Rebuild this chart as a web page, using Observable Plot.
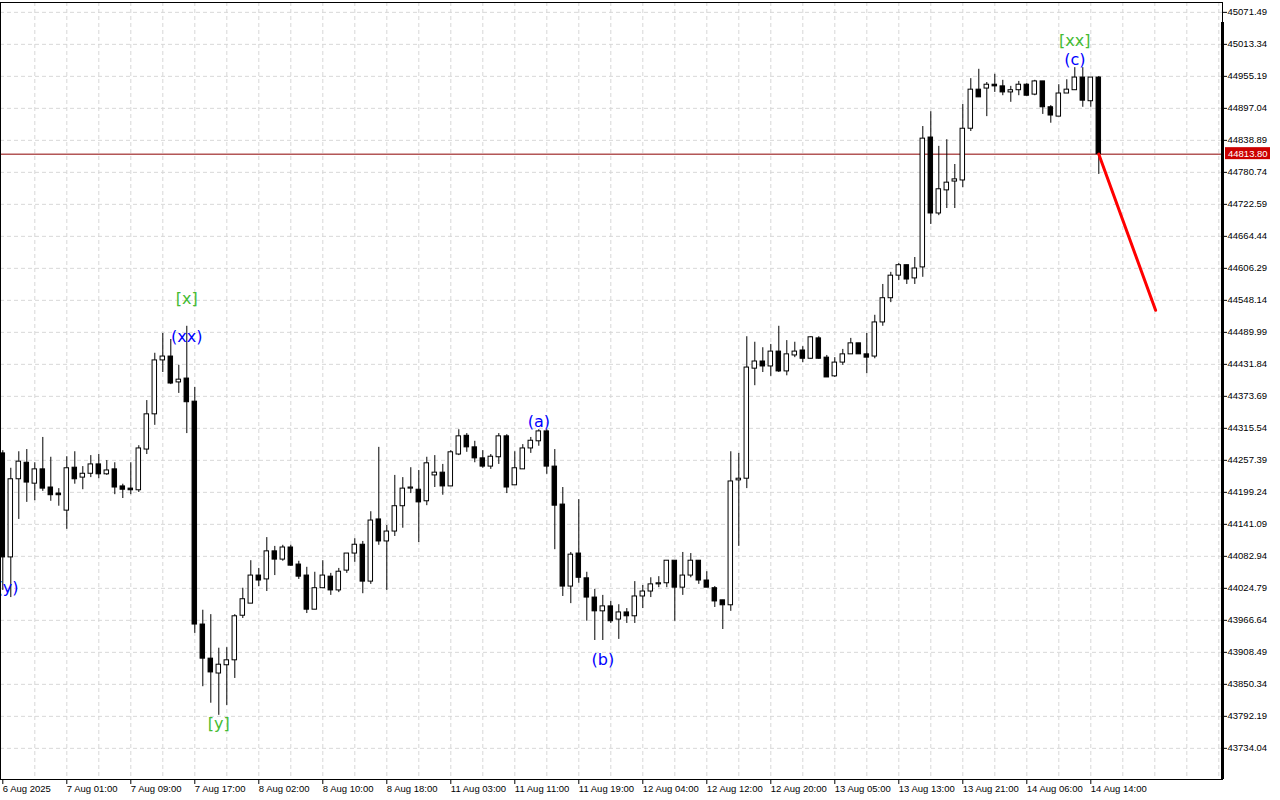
<!DOCTYPE html>
<html><head><meta charset="utf-8">
<script src="https://cdn.jsdelivr.net/npm/d3@7"></script>
<script src="https://cdn.jsdelivr.net/npm/@observablehq/plot@0.6"></script>
<style>body{margin:0;background:#fff;} svg{display:block}</style>
</head><body><div id="chart"></div>
<script>
const open=[44270,44081,44223,44253,44215,44241,44208,44197,44166,44244,
44226,44233,44250,44232,44241,44210,44206,44203,44277,44341,
44439,44446,44399,44406,44364,43959,43897,43870,43885,43894,
43975,43997,44048,44041,44092,44077,44099,44068,44048,43986,
44025,44046,44021,44057,44088,44104,44037,44150,44110,44128,
44174,44206,44204,44183,44230,44235,44210,44268,44302,44281,
44261,44246,44263,44301,44212,44241,44279,44292,44310,44246,
44177,44028,44088,44043,44008,43983,43992,43968,43981,43974,
44010,44019,44032,44034,44075,44026,44048,44075,44039,44025,
44003,43994,44221,44224,44424,44437,44428,44455,44419,44448,
44457,44442,44479,44444,44410,44435,44450,44470,44450,44446,
44508,44552,44593,44612,44588,44608,44844,44706,44748,44764,
44766,44860,44931,44933,44940,44937,44926,44930,44940,44922,
44946,44899,44882,44924,44930,44953,44910,44953];
const high=[44275,44243,44273,44277,44253,44299,44263,44206,44264,44273,
44246,44266,44268,44257,44253,44214,44253,44284,44366,44452,
44488,44477,44430,44501,44390,43985,43977,43916,43917,43977,
44025,44075,44061,44117,44101,44103,44103,44074,44063,44054,
44075,44052,44061,44088,44115,44110,44164,44281,44139,44230,
44226,44244,44239,44263,44266,44250,44275,44313,44306,44292,
44275,44268,44306,44304,44273,44286,44299,44313,44313,44277,
44208,44090,44186,44054,44023,44012,44001,43995,43988,44037,
44030,44044,44046,44075,44075,44090,44088,44075,44055,44028,
44003,44273,44270,44482,44472,44462,44468,44501,44475,44472,
44464,44482,44482,44448,44444,44459,44479,44470,44488,44521,
44577,44599,44615,44612,44626,44864,44891,44828,44840,44795,
44904,44951,44968,44944,44959,44948,44937,44946,44942,44948,
44946,44902,44940,44949,44971,44971,44953,44955];
const low=[44021,44008,44150,44181,44184,44201,44183,44174,44132,44214,
44204,44226,44224,44230,44195,44188,44195,44199,44268,44321,
44417,44395,44379,44306,43943,43846,43816,43794,43812,43861,
43970,43997,44028,44019,44048,44074,44065,44041,43979,43986,
44025,44012,44017,44052,44072,44015,44032,44103,44021,44119,
44134,44197,44108,44175,44208,44194,44210,44266,44272,44253,
44243,44241,44250,44197,44212,44241,44270,44283,44232,44095,
44010,43997,44034,43965,43930,43930,43961,43932,43961,43961,
43988,44008,44026,44026,43965,44012,44044,44032,44026,43990,
43950,43983,44101,44206,44393,44417,44410,44417,44411,44444,
44435,44441,44441,44408,44408,44430,44450,44450,44415,44442,
44501,44544,44584,44577,44577,44590,44686,44702,44715,44715,
44753,44855,44917,44882,44926,44920,44908,44920,44919,44920,
44886,44870,44882,44924,44930,44899,44899,44777];
const close=[44081,44223,44255,44217,44241,44206,44194,44194,44243,44223,
44233,44250,44232,44239,44208,44204,44203,44279,44341,44439,
44446,44397,44404,44363,43959,43897,43872,43886,43894,43974,
44005,44048,44039,44092,44077,44099,44066,44046,43986,44025,
44048,44021,44055,44088,44104,44037,44148,44110,44128,44174,
44206,44208,44181,44252,44235,44210,44272,44301,44281,44261,
44246,44264,44301,44208,44243,44279,44293,44310,44246,44175,
44028,44086,44044,44008,43983,43992,43965,43981,43974,44010,
44019,44032,44034,44075,44026,44048,44075,44039,44026,44001,
43994,44219,44224,44426,44437,44428,44455,44419,44450,44455,
44442,44481,44442,44408,44435,44450,44470,44450,44444,44508,
44552,44593,44612,44586,44606,44842,44706,44750,44762,44768,
44860,44931,44917,44940,44937,44926,44930,44940,44920,44946,
44899,44884,44924,44931,44953,44911,44953,44813.8];

const priceTicks=[45071.49,45013.34,44955.19,44897.04,44838.89,44780.74,44722.59,44664.44,44606.29,44548.14,44489.99,44431.84,44373.69,44315.54,44257.39,44199.24,44141.09,44082.94,44024.79,43966.64,43908.49,43850.34,43792.19,43734.04];
const timeIdx=[0,8,16,24,32,40,48,56,64,72,80,88,96,104,112,120,128,136];
const timeLabels=["6 Aug 2025","7 Aug 01:00","7 Aug 09:00","7 Aug 17:00","8 Aug 02:00","8 Aug 10:00","8 Aug 18:00","11 Aug 03:00","11 Aug 11:00","11 Aug 19:00","12 Aug 04:00","12 Aug 12:00","12 Aug 20:00","13 Aug 05:00","13 Aug 13:00","13 Aug 21:00","14 Aug 06:00","14 Aug 14:00"];
const lastPrice=44813.80;
const forecastIdx=[137,144.1];
const forecastPrice=[44813.8,44530];
const waveText=["(y)","[x]","(xx)","[y]","(a)","(b)","(c)","[xx]"];
const waveIdx=[0.6,23,23,27,67,75,134,134];
const wavePrice=[44025,44551,44482,43779,44328,43894,44986,45020];
const waveColor=["#0000ff","#44bb33","#0000ff","#44bb33","#0000ff","#0000ff","#0000ff","#44bb33"];

const candles=open.map((o,i)=>({i,open:o,high:high[i],low:low[i],close:close[i]}));
const forecast=forecastIdx.map((x,k)=>({i:x,p:forecastPrice[k]}));
const waves=waveText.map((t,k)=>({t,i:waveIdx[k],p:wavePrice[k],c:waveColor[k]}));
const gridIdx=d3.range(4,153,4);

const chart=Plot.plot({
  width:1280,height:800,marginLeft:0,marginRight:58,marginTop:2,marginBottom:21,
  style:{fontFamily:"'Liberation Sans', Arial, sans-serif",fontSize:"9.5px",background:"#fff",color:"#000"},
  x:{type:"linear",domain:[-0.2875,152.4625],label:null},
  y:{type:"linear",domain:[43677.4,45089.4],label:null},
  marks:[
    Plot.ruleY(priceTicks,{stroke:"#d8d8d8",strokeDasharray:"4,3"}),
    Plot.ruleX(gridIdx,{stroke:"#d8d8d8",strokeDasharray:"4,3"}),
    Plot.ruleY([lastPrice],{stroke:"#8c0000"}),
    Plot.ruleX(candles,{x:"i",y1:"low",y2:"high",stroke:"#000",clip:true}),
    Plot.rect(candles,{x1:d=>d.i-0.28,x2:d=>d.i+0.28,y1:"open",y2:"close",fill:d=>d.close>=d.open?"#ffffff":"#000000",stroke:"#000",clip:true}),
    Plot.line(forecast,{x:"i",y:"p",stroke:"#ff0000",strokeWidth:3}),
    Plot.text(waves,{x:"i",y:"p",text:"t",fill:"c",fontSize:16,fontFamily:"'DejaVu Sans', sans-serif",clip:true}),
    Plot.axisY(priceTicks,{anchor:"right",label:null,tickSize:4,tickPadding:1,tickFormat:d=>d.toFixed(2)}),
    Plot.axisX(timeIdx,{anchor:"bottom",label:null,tickSize:5,tickPadding:1,textAnchor:"start",tickFormat:d=>timeLabels[timeIdx.indexOf(d)]}),
    Plot.frame({stroke:"#000"})
  ]
});
document.getElementById("chart").appendChild(chart);
const ys=chart.scale("y");
const yp=ys.apply(lastPrice);
const svg=d3.select(chart);
svg.append("line").attr("x1",1222.5).attr("x2",1222.5).attr("y1",22).attr("y2",779).attr("stroke","#000").attr("stroke-width",3);
svg.append("rect").attr("x",1225).attr("y",yp-6.5).attr("width",45).attr("height",12).attr("fill","#cc0000");
svg.append("text").attr("x",1228).attr("y",yp+3.5).attr("text-anchor","start").attr("fill","#fff").attr("font-size","9.5px").attr("font-family","'Liberation Sans', Arial, sans-serif").text(lastPrice.toFixed(2));
</script>
</body></html>
